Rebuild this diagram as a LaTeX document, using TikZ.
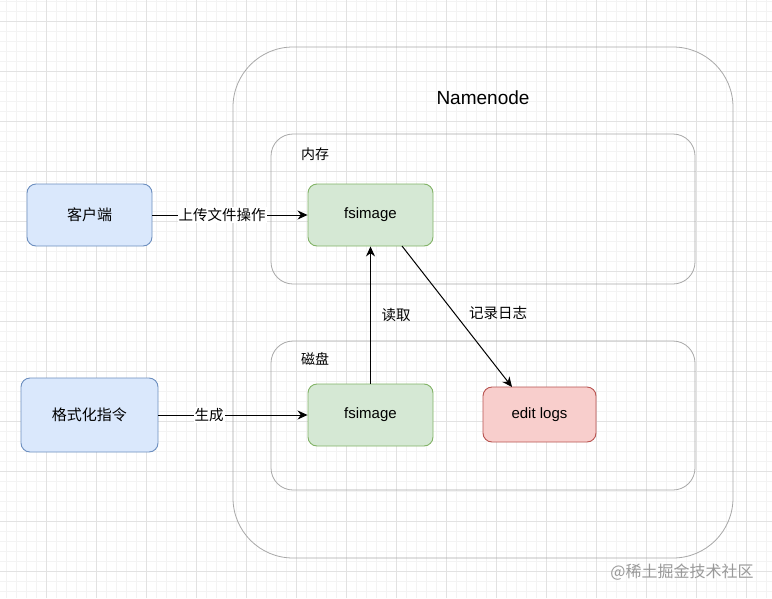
\documentclass[tikz,border=0pt]{standalone}
\usepackage{fontspec}
\setmainfont{Liberation Sans}
\newfontfamily\cjk{Noto Sans CJK SC}
\usetikzlibrary{arrows.meta}
\definecolor{bluefill}{HTML}{DAE8FC}
\definecolor{bluedraw}{HTML}{6C8EBF}
\definecolor{greenfill}{HTML}{D5E8D4}
\definecolor{greendraw}{HTML}{82B366}
\definecolor{redfill}{HTML}{F8CECC}
\definecolor{reddraw}{HTML}{B85450}
\definecolor{contdraw}{HTML}{A8A8A8}
\definecolor{gridminor}{HTML}{F3F3F3}
\definecolor{gridmajor}{HTML}{E2E2E2}
\tikzset{
  box/.style={draw, rounded corners=9pt, line width=0.9pt, inner sep=0pt, font=\fontsize{15}{17}\selectfont},
  client/.style={box, fill=bluefill, draw=bluedraw},
  green/.style={box, fill=greenfill, draw=greendraw},
  red/.style={box, fill=redfill, draw=reddraw},
  cont/.style={draw=contdraw, line width=0.8pt},
  arr/.style={-{Stealth[length=10pt,width=9pt]}, line width=1pt, black},
  lbl/.style={font=\cjk\fontsize{14.5}{16}\selectfont, fill=white, inner sep=1pt},
  lblt/.style={font=\cjk\fontsize{14.5}{16}\selectfont, inner sep=1pt},
}
\begin{document}
\begin{tikzpicture}[x=1pt,y=-1pt]
\useasboundingbox (0,0) rectangle (772,598);
\fill[white] (0,0) rectangle (772,598);
% grid
\foreach \x in {6,16,...,766} \draw[gridminor, line width=0.6pt] (\x,0) -- (\x,598);
\foreach \y in {1,11,...,591} \draw[gridminor, line width=0.6pt] (0,\y) -- (772,\y);
\foreach \x in {46,96,...,746} \draw[gridmajor, line width=0.7pt] (\x,0) -- (\x,598);
\foreach \y in {21,71,...,571} \draw[gridmajor, line width=0.7pt] (0,\y) -- (772,\y);
% containers
\draw[cont, rounded corners=60pt] (233,47) rectangle (733,558);
\node (nn) at (483,98) {\fontsize{19}{21}\selectfont Namenode};
\draw[cont, rounded corners=22pt] (271,134) rectangle (695,284);
\node[lblt, font=\cjk\fontsize{14}{16}\selectfont] (mem) at (315,154) {内存};
\draw[cont, rounded corners=22pt] (271,341) rectangle (695,490);
\node[lblt, font=\cjk\fontsize{14}{16}\selectfont] (disk) at (315,359) {磁盘};
% nodes
\node[client, minimum width=125pt, minimum height=62pt] (client) at (89.5,215) {\cjk 客户端};
\node[client, minimum width=137pt, minimum height=74pt] (fmt) at (89.5,415) {\cjk 格式化指令};
\node[green, minimum width=125pt, minimum height=62pt] (fs1) at (370.5,215) {fsimage};
\node[green, minimum width=125pt, minimum height=62pt] (fs2) at (370.5,415) {fsimage};
\node[red, minimum width=113pt, minimum height=55pt] (ed) at (539.5,414.5) {edit logs};
% connectors
\draw[arr] (client) -- node[lbl, pos=0.45] {上传文件操作} (fs1);
\draw[arr] (fmt.east) -- node[lbl, pos=0.34] {生成} (fs2.west);
\draw[arr] (fs2.north) -- (fs1.south);
\node[lblt] (rd) at (396,315) {读取};
\coordinate (s3) at (402,246);
\coordinate (e3) at (512,387);
\draw[arr] (s3) -- (e3);
\node[lblt] (log) at (498,313) {记录日志};
% watermark
\node[font=\cjk\fontsize{16}{18}\selectfont, text=black!40] (wm) at (682,572) {@稀土掘金技术社区};
\end{tikzpicture}
\end{document}
